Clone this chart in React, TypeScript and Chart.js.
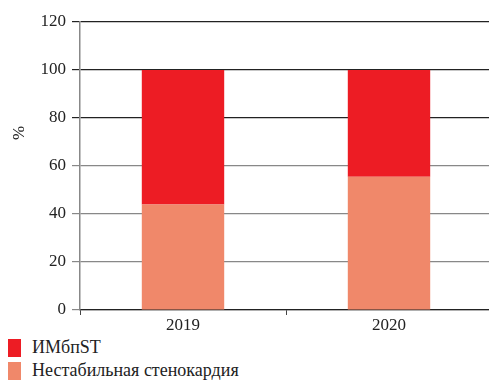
import React, { useEffect, useRef } from "react";
import { Chart, registerables } from "chart.js";

Chart.register(...registerables);

const categories = ["2019", "2020"];
const seriesNames = ["Нестабильная стенокардия", "ИМбпST"];
const unstableAngina = [44, 55.5];
const nstemi = [56, 44.5];
const seriesColors = ["#F0886A", "#ED1C24"];
const yTicks = [0, 20, 40, 60, 80, 100, 120];
const yTitle = "%";

const FONT = "Liberation Serif";

export default function App() {
  const ref = useRef<HTMLCanvasElement | null>(null);

  useEffect(() => {
    Chart.defaults.font.family = FONT;
    const titlePlugin = {
      id: "yTitle",
      afterDraw(chart: any) {
        const ctx = chart.ctx;
        ctx.save();
        ctx.translate(20, 133);
        ctx.rotate(-Math.PI / 2);
        ctx.font = '17px "Liberation Serif"';
        ctx.fillStyle = "#222";
        ctx.textAlign = "center";
        ctx.textBaseline = "middle";
        ctx.fillText(yTitle, 0, 0);
        ctx.restore();
      },
    };
    const chart = new Chart(ref.current!, {
      type: "bar",
      data: {
        labels: categories,
        datasets: [
          {
            label: seriesNames[0],
            data: unstableAngina,
            backgroundColor: seriesColors[0],
            barPercentage: 0.4,
            categoryPercentage: 1,
          },
          {
            label: seriesNames[1],
            data: nstemi,
            backgroundColor: seriesColors[1],
            barPercentage: 0.4,
            categoryPercentage: 1,
          },
        ],
      },
      options: {
        animation: false,
        responsive: false,
        layout: { padding: { top: 22, right: 5, left: 0, bottom: 0 } },
        plugins: { legend: { display: false }, tooltip: { enabled: false } },
        scales: {
          x: {
            stacked: true,
            afterFit(scale: any) {
              scale.height = 22;
            },
            border: { color: "#222", width: 1.2 },
            grid: { drawOnChartArea: false, drawTicks: true, tickLength: 5, color: "#444", offset: true },
            ticks: { color: "#222", font: { family: FONT, size: 17 }, padding: 0 },
          },
          y: {
            stacked: true,
            min: 0,
            max: 120,
            afterBuildTicks(scale: any) {
              scale.ticks = yTicks.map((v) => ({ value: v }));
            },
            afterFit(scale: any) {
              scale.width = 80;
            },
            border: { color: "#888", width: 1.5 },
            grid: {
              color: (c: any) => (c.tick && c.tick.value >= 80 ? "#222" : "#888"),
              lineWidth: 1.2,
              tickLength: 8,
            },
            ticks: { color: "#222", font: { family: FONT, size: 17 }, padding: 6 },
          },
        },
      },
      plugins: [titlePlugin],
    });
    return () => chart.destroy();
  }, []);

  const legendOrder = [1, 0];
  return (
    <div style={{ width: 497, height: 385, margin: "-8px -8px 0 -8px" }}>
      <canvas ref={ref} width={497} height={332} style={{ display: "block" }} />
      <div style={{ paddingTop: 4 }}>
        {legendOrder.map((i) => (
          <div key={i} style={{ display: "flex", alignItems: "center", height: 23, paddingLeft: 3 }}>
            <span style={{ width: 18, height: 18, background: seriesColors[i], display: "inline-block" }} />
            <span
              style={{
                marginLeft: 11,
                fontSize: 18,
                color: "#222",
                fontFamily: "Liberation Serif",
              }}
            >
              {seriesNames[i]}
            </span>
          </div>
        ))}
      </div>
    </div>
  );
}
